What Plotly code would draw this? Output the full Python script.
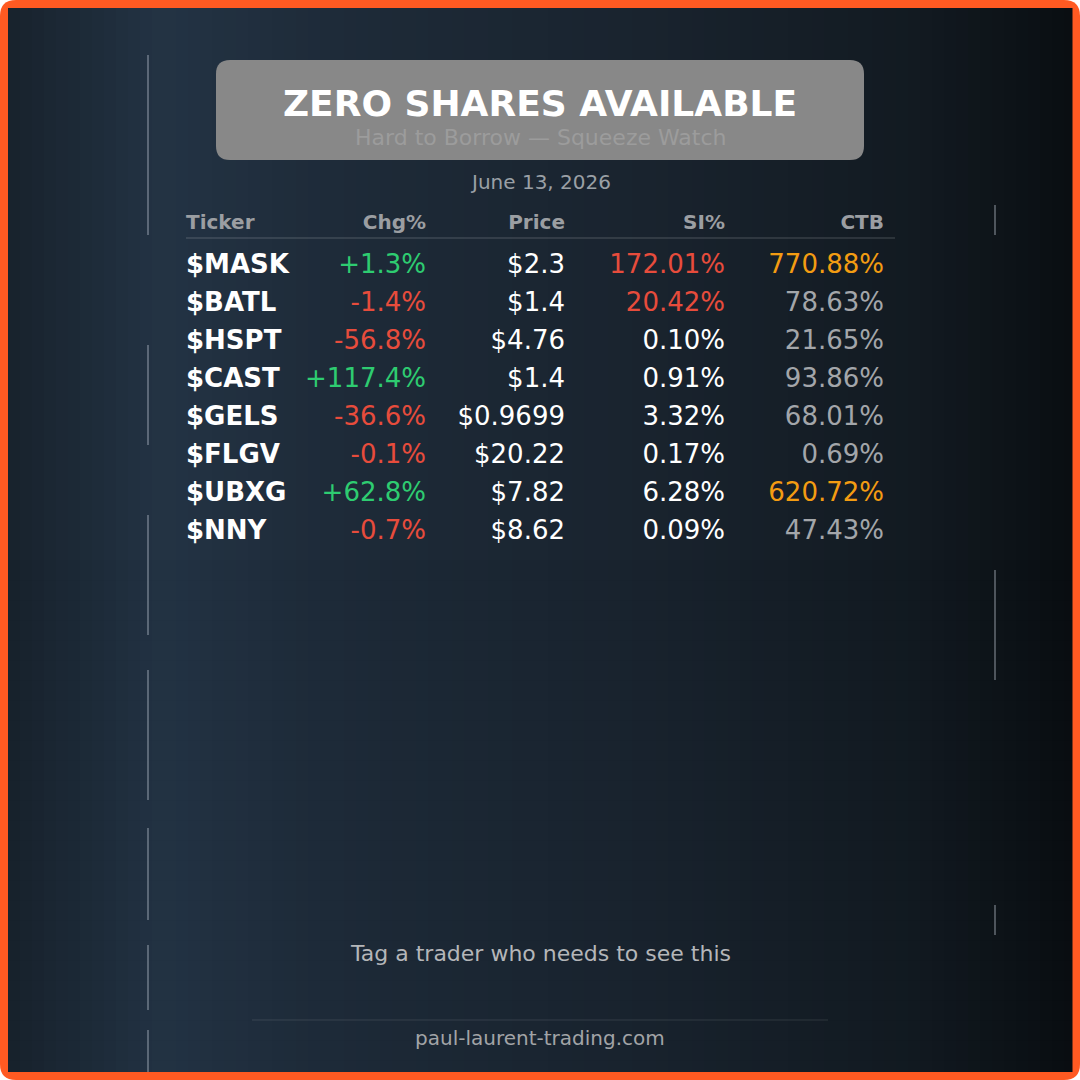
import plotly.graph_objects as go

# table data
tickers = ["$MASK", "$BATL", "$HSPT", "$CAST", "$GELS", "$FLGV", "$UBXG", "$NNY"]
chg_pct = [1.3, -1.4, -56.8, 117.4, -36.6, -0.1, 62.8, -0.7]
prices = ["2.3", "1.4", "4.76", "1.4", "0.9699", "20.22", "7.82", "8.62"]
si_pct = [172.01, 20.42, 0.10, 0.91, 3.32, 0.17, 6.28, 0.09]
ctb_pct = [770.88, 78.63, 21.65, 93.86, 68.01, 0.69, 620.72, 47.43]
headers = ["Ticker", "Chg%", "Price", "SI%", "CTB"]

title = "ZERO SHARES AVAILABLE"
subtitle = "Hard to Borrow \u2014 Squeeze Watch"
date_str = "June 13, 2026"
cta = "Tag a trader who needs to see this"
site = "paul-laurent-trading.com"

GREEN = "#2ecc71"
RED = "#e74c3c"
ORANGE = "#f39c12"
WHITE = "#ffffff"
GRAY = "#a3a6aa"
FONT = "DejaVu Sans"

W = 1080
row_y0, row_step = 266, 38
ys = [row_y0 + i * row_step for i in range(len(tickers))]

# column anchors (x)
col_x = [186, 426, 565, 725, 884]

chg_txt = [f"{v:+.1f}%" for v in chg_pct]
chg_col = [GREEN if v > 0 else RED for v in chg_pct]
price_txt = ["$" + p for p in prices]
si_txt = [f"{v:.2f}%" for v in si_pct]
si_col = [RED if v > 10 else WHITE for v in si_pct]
ctb_txt = [f"{v:.2f}%" for v in ctb_pct]
ctb_col = [ORANGE if v > 100 else GRAY for v in ctb_pct]


def hex2rgb(h):
    h = h.lstrip("#")
    return [int(h[i:i + 2], 16) for i in (0, 2, 4)]


def lerp_color(stops, t):
    for (t0, c0), (t1, c1) in zip(stops, stops[1:]):
        if t0 <= t <= t1:
            f = (t - t0) / (t1 - t0) if t1 > t0 else 0
            a, b = hex2rgb(c0), hex2rgb(c1)
            return "rgb(%d,%d,%d)" % tuple(round(a[k] + (b[k] - a[k]) * f) for k in range(3))
    return stops[-1][1]


# background gradient (left lighter blue -> right near black)
bg_stops = [(0.0, "#17212b"), (0.15, "#233344"), (0.3, "#1e2b39"),
            (0.6, "#19232e"), (0.85, "#121a21"), (1.0, "#090d11")]

shapes = []
# orange rounded frame
r = 16
shapes.append(dict(type="path", xref="x", yref="y", layer="below",
                   path=f"M {r},0 L {W-r},0 Q {W},0 {W},{r} L {W},{W-r} Q {W},{W} {W-r},{W} "
                        f"L {r},{W} Q 0,{W} 0,{W-r} L 0,{r} Q 0,0 {r},0 Z",
                   fillcolor="#ff5a22", line=dict(width=0)))
step = 12
x = 8
while x < W - 8:
    x1 = min(x + step, W - 8)
    t = (x + x1) / 2 / W
    shapes.append(dict(type="rect", xref="x", yref="y", layer="below",
                       x0=x, x1=x1 + 0.5, y0=8, y1=W - 8,
                       fillcolor=lerp_color(bg_stops, t), line=dict(width=0)))
    x = x1
# soft darkening towards the bottom
y = 560
while y < W - 8:
    y1 = min(y + 20, W - 8)
    shapes.append(dict(type="rect", xref="x", yref="y", layer="below",
                       x0=8, x1=W - 8, y0=y, y1=y1 + 0.5,
                       fillcolor="rgba(0,0,0,0.012)", line=dict(width=0)))
    y = y1 if y1 > y else W
# faint ruler lines from the backdrop
for x0, segs in [(148, [(55, 235), (345, 445), (515, 635), (670, 800), (828, 920), (945, 1010), (1030, 1072)]),
                 (995, [(205, 235), (570, 680), (905, 935)])]:
    for s0, s1 in segs:
        shapes.append(dict(type="line", xref="x", yref="y", layer="below",
                           x0=x0, x1=x0, y0=s0, y1=s1,
                           line=dict(color="rgba(200,210,220,0.35)", width=2)))

# title box
br = 14
bx0, bx1, by0, by1 = 216, 864, 60, 160
shapes.append(dict(type="path", xref="x", yref="y",
                   path=f"M {bx0+br},{by0} L {bx1-br},{by0} Q {bx1},{by0} {bx1},{by0+br} "
                        f"L {bx1},{by1-br} Q {bx1},{by1} {bx1-br},{by1} L {bx0+br},{by1} "
                        f"Q {bx0},{by1} {bx0},{by1-br} L {bx0},{by0+br} Q {bx0},{by0} {bx0+br},{by0} Z",
                   fillcolor="#888888", line=dict(width=0)))
# header divider and footer divider
shapes.append(dict(type="line", xref="x", yref="y", x0=186, x1=895, y0=238, y1=238,
                   line=dict(color="rgba(255,255,255,0.22)", width=1)))
shapes.append(dict(type="line", xref="x", yref="y", x0=252, x1=828, y0=1020, y1=1020,
                   line=dict(color="rgba(255,255,255,0.12)", width=1)))

fig = go.Figure()

# header row
for i, h in enumerate(headers):
    fig.add_trace(go.Scatter(
        x=[col_x[i]], y=[224], mode="text", text=[f"<b>{h}</b>"],
        textposition="middle right" if i == 0 else "middle left",
        textfont=dict(family=FONT, size=20, color="#9b9ea2"),
        hoverinfo="skip", showlegend=False))

cols = [
    ([f"<b>{t}</b>" for t in tickers], [WHITE] * len(tickers), "middle right"),
    (chg_txt, chg_col, "middle left"),
    (price_txt, [WHITE] * len(prices), "middle left"),
    (si_txt, si_col, "middle left"),
    (ctb_txt, ctb_col, "middle left"),
]
for i, (txt, colr, pos) in enumerate(cols):
    fig.add_trace(go.Scatter(
        x=[col_x[i]] * len(txt), y=ys, mode="text", text=txt, textposition=pos,
        textfont=dict(family=FONT, size=26, color=colr),
        hoverinfo="skip", showlegend=False))

annotations = [
    dict(x=540, y=103, text=f"<b>{title}</b>", font=dict(family=FONT, size=36, color="white")),
    dict(x=540, y=137, text=subtitle, font=dict(family=FONT, size=22, color="#9c9c9c")),
    dict(x=540, y=182, text=date_str, font=dict(family=FONT, size=20, color="#9aa0a6")),
    dict(x=540, y=953, text=cta, font=dict(family=FONT, size=22, color="#b4b6b9")),
    dict(x=540, y=1038, text=site, font=dict(family=FONT, size=20, color="#a2a4a7")),
]
for a in annotations:
    a.update(xref="x", yref="y", showarrow=False, xanchor="center", yanchor="middle")

fig.update_layout(
    width=W, height=W,
    margin=dict(l=0, r=0, t=0, b=0),
    paper_bgcolor="white", plot_bgcolor="rgba(0,0,0,0)",
    xaxis=dict(range=[0, W], visible=False, fixedrange=True),
    yaxis=dict(range=[W, 0], visible=False, fixedrange=True),
    shapes=shapes, annotations=annotations,
)

fig.write_html("out.html", config={"displayModeBar": False},
               post_script="document.body.style.margin='0';")
